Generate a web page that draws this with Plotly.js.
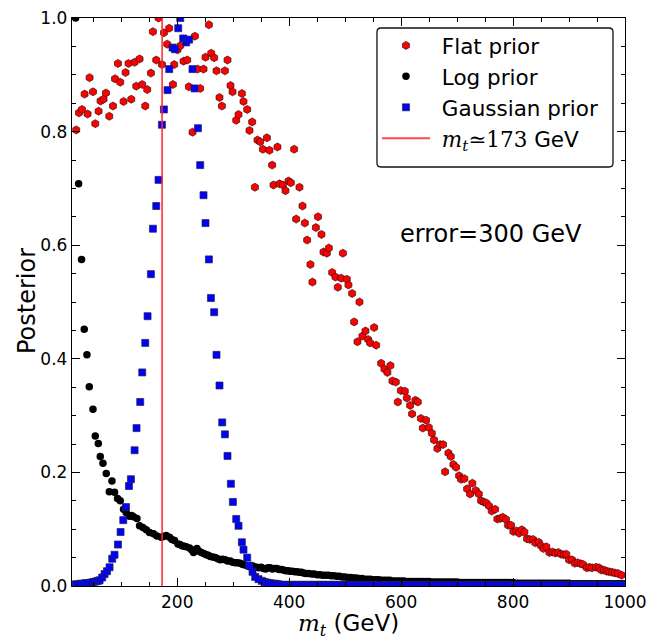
<!DOCTYPE html>
<html>
<head>
<meta charset="utf-8">
<script src="https://cdn.plot.ly/plotly-3.0.1.min.js"></script>
<style>html,body{margin:0;padding:0;background:#fff;}#chart{width:650px;height:640px;}</style>
</head>
<body>
<div id="chart"></div>
<script>
// ---- Flat prior (red hexagons) ----
const flatMass = [19.6,24.5,29.8,34.5,39.8,43.4,49.5,53.6,59.5,63.0,
68.4,72.7,78.6,85.2,88.8,94.1,98.2,104.1,107.7,113.0,
117.9,123.8,126.8,132.7,137.5,142.9,146.4,153.0,156.6,162.5,
166.6,172.7,176.2,182.1,185.7,192.3,194.6,200.5,205.4,211.3,
217.9,220.8,227.3,231.6,236.3,241.0,247.0,250.5,256.6,260.7,
266.0,270.2,275.5,279.8,285.2,289.8,295.2,298.8,305.4,309.5,
315.5,318.4,325.0,329.1,333.9,338.8,343.4,348.2,353.0,360.2,
364.8,369.6,372.0,379.1,382.7,388.7,393.4,398.8,403.0,408.9,
412.5,418.4,423.8,428.0,432.1,438.0,441.6,447.7,451.5,457.7,
461.3,467.3,470.9,476.8,482.7,486.9,492.9,496.0,503.0,505.9,
512.5,516.1,522.0,525.6,530.9,536.3,541.1,544.6,551.8,555.4,
564.3,570.2,575.5,580.9,584.5,590.5,594.1,599.5,606.6,610.2,
616.1,619.6,625.5,629.8,635.2,638.8,644.6,649.5,654.8,658.9,
664.8,669.6,675.0,678.6,684.5,688.8,693.4,698.2,703.6,707.1,
713.0,717.9,723.2,727.3,733.4,738.8,742.9,747.7,752.3,757.1,
761.9,767.9,772.0,777.3,781.6,787.5,791.1,796.4,800.5,805.9,
810.7,815.5,820.2,825.0,829.8,835.7,839.8,845.9,850.0,854.1,
859.5,864.8,870.2,875.5,880.9,885.7,890.5,895.2,900.0,905.4,
910.2,915.5,920.9,925.0,931.6,936.3,941.1,948.2,953.6,957.7,
962.5,967.3,972.0,977.3,982.1,987.5,994.1];
const flatPost = [.803,.833,.839,.866,.831,.895,.870,.814,.836,.854,
.857,.868,.827,.845,.893,.920,.887,.853,.904,.920,
.857,.922,.880,.928,.883,.845,.874,.903,.976,.926,
1.0,.918,.974,.954,.982,.883,.918,.944,.951,.924,
.926,.879,.799,.968,.910,.876,.910,.931,.988,.938,
.930,.907,.860,.845,.907,.926,.881,.870,.820,.830,
.867,.853,.839,.802,.817,.702,.785,.782,.769,.789,
.767,.741,.706,.773,.708,.706,.696,.713,.710,.769,
.646,.702,.669,.639,.609,.566,.535,.631,.650,.619,
.588,.586,.595,.552,.544,.526,.542,.586,.540,.530,
.515,.465,.430,.500,.440,.449,.434,.428,.455,.424,
.392,.382,.376,.388,.361,.359,.324,.344,.343,.331,
.318,.303,.327,.324,.295,.278,.292,.279,.269,.257,
.242,.249,.249,.201,.234,.228,.214,.209,.194,.188,
.189,.171,.162,.181,.168,.162,.150,.148,.146,.141,
.132,.135,.118,.119,.121,.117,.107,.107,.096,.097,
.093,.099,.095,.083,.082,.082,.076,.077,.071,.066,
.069,.059,.060,.058,.059,.056,.055,.056,.046,.046,
.040,.041,.039,.038,.032,.033,.032,.033,.032,.028,
.028,.026,.025,.024,.023,.022,.019];

// ---- Log prior (black circles) ----
const logMassHead = [18.4,23.8,29.1,33.9,38.7,42.9,49.5,53.6,59.0,62.5,
67.3,73.2,78.6,83.4,88.0,93.4,98.2,104.1,108.9,114.8,
118.5,122.0,128.0,132.7,138.8,144.6,150.5,157.7,163.7,171.4,
175.5,180.4,186.3,190.5,195.2,201.2,204.8,208.4,212.5,216.1,
222.0,225.5,229.1,235.2,239.0,242.9,247.5,251.8,255.5,259.0,
263.5,267.9,272.5,276.8,281.0,285.7,290.0,294.6,299.0,303.6,
308.0,312.5,317.0,321.4,326.0,330.4,335.0,339.0,342.3,346.0,
350.0,354.1,358.0,362.0,366.1,370.0,374.0,378.0,382.0,386.0,
389.8,394.0,398.0,401.8,406.0,410.0,413.7,418.0,422.0,425.5,
430.0,434.5];
const logPostHead = [1.0,.708,.575,.452,.407,.351,.311,.264,.251,.228,
.216,.198,.166,.185,.165,.154,.150,.135,.129,.123,
.124,.122,.119,.106,.103,.099,.094,.092,.088,.086,
.087,.089,.086,.082,.080,.074,.073,.071,.070,.069,
.067,.064,.059,.066,.061,.059,.057,.055,.054,.052,
.051,.050,.048,.046,.047,.046,.044,.044,.042,.041,
.041,.040,.038,.037,.035,.034,.035,.033,.033,.032,
.033,.031,.030,.032,.032,.030,.031,.031,.029,.029,
.028,.027,.027,.026,.026,.025,.025,.024,.024,.023,
.022,.022];
const logMassTail = [440,445,450,455,460,465,470,475,480,485,490,495,500,505,510,515,520,525,530,535,
540,545,550,555,560,565,570,575,580,585,590,595,600,605,610,615,620,625,630,635,
640,645,650,655,660,665,670,675,680,685,690,695,700,705,710,715,720,725,730,735,
740,745,750,755,760,765,770,775,780,785,790,795,800,805,810,815,820,825,830,835,
840,845,850,855,860,865,870,875,880,885,890,895,900,905,910,915,920,925,930,935,
940,945,950,955,960,965,970,975,980,985,990,995,1000];
const logPostTail = [.021,.021,.020,.020,.019,.019,.019,.018,.018,.017,
.017,.016,.016,.015,.015,.014,.014,.013,.013,.012,
.012,.012,.011,.011,.011,.010,.010,.010,.010,.009,
.009,.009,.009,.009,.008,.008,.008,.008,.008,.008,
.008,.008,.008,.007,.007,.007,.007,.007,.007,.007,
.007,.007,.007,
.006,.006,.006,.006,.006,.006,.006,.006,.006,.006,.006,.006,.006,.006,.006,.006,.006,.006,.006,.006,
.005,.005,.005,.005,.005,.005,.005,.005,.005,.005,.005,.005,.005,.005,.005,.005,.005,.005,.005,.005,
.004,.004,.004,.004,.004,.004,.004,.004,.004,.004,.004,.004,.004,.004,.004,.004,.004,.004,.004,.004];

// ---- Gaussian prior (blue squares) ----
const gaussMassHead = [18.5,23.0,27.5,32.0,36.5,41.0,45.5,50.0,54.5,58.0,
61.3,66.0,70.2,74.5,79.1,83.9,88.0,94.1,98.8,103.6,
108.4,113.8,117.3,123.8,127.3,133.9,137.5,142.9,147.0,153.0,
156.6,162.5,166.6,172.7,176.2,182.7,185.7,191.6,195.9,201.8,
205.4,210.7,216.1,221.4,227.3,230.9,237.0,241.0,247.0,250.5,
256.6,260.2,266.0,270.2,275.5,280.4,285.2,289.8,295.9,299.5,
305.4,309.5,315.5,318.4,325.0,328.6,334.5,339.3,345.2,351.3,
356.0,361.0,366.0,371.0,376.0,381.0];
const gaussPostHead = [.003,.003,.004,.004,.005,.005,.006,.007,.008,.009,
.010,.015,.021,.026,.033,.048,.055,.073,.095,.116,
.139,.176,.188,.239,.278,.324,.376,.428,.475,.549,
.629,.669,.715,.812,.839,.873,.910,.948,.945,.982,
1.0,.964,.957,.962,.910,.876,.806,.741,.688,.639,
.575,.507,.482,.407,.353,.288,.267,.229,.180,.148,
.118,.106,.077,.064,.050,.036,.025,.016,.012,.009,
.007,.006,.005,.004,.004,.003];
const gaussMassTail = [385,390,395,400,405,410,415,420,425,430,435,
440,445,450,455,460,465,470,475,480,485,490,495,500,505,510,515,520,525,530,535,
540,545,550,555,560,565,570,575,580,585,590,595,600,605,610,615,620,625,630,635,
640,645,650,655,660,665,670,675,680,685,690,695,700,705,710,715,720,725,730,735,
740,745,750,755,760,765,770,775,780,785,790,795,800,805,810,815,820,825,830,835,
840,845,850,855,860,865,870,875,880,885,890,895,900,905,910,915,920,925,930,935,
940,945,950,955,960,965,970,975,980,985,990,995,1000];
const gaussPostTail = [.002,.002,.002,.002,.002,.002,.002,.002,.002,.002,.002,
.002,.002,.002,.002,.002,.002,.002,.002,.002,.002,.002,.002,.002,.002,.002,.002,.002,.002,.002,.002,
.002,.002,.002,.002,.002,.002,.002,.002,.002,.002,.002,.002,.002,.002,.002,.002,.002,.002,.002,.002,
.002,.002,.002,.002,.002,.002,.002,.002,.002,.002,.002,.002,.002,.002,.002,.002,.002,.002,.002,.002,
.002,.002,.002,.002,.002,.002,.002,.002,.002,.002,.002,.002,.002,.002,.002,.002,.002,.002,.002,.002,
.002,.002,.002,.002,.002,.002,.002,.002,.002,.002,.002,.002,.002,.002,.002,.002,.002,.002,.002,.002,
.002,.002,.002,.002,.002,.002,.002,.002,.002,.002,.002,.002,.002];

// ---- Reference top mass ----
const topMass = 173;
const lineSpan = [0, 1];

// ---- Labels ----
const NB = '\u00A0';
const seriesNames = ['Flat prior', 'Log prior', 'Gaussian prior'];
const lineName = '<span style="font-family:\'DejaVu Serif\'"><i>m</i><sub><i>t</i></sub>≃173</span> GeV';
const xTitle = '<span style="font-family:\'DejaVu Serif\'"><i>m</i><sub><i>t</i></sub></span> (GeV)';
const yTitle = 'Posterior';
const noteText = 'error=300 GeV';

const traces = [
  {x: flatMass, y: flatPost, name: NB + seriesNames[0], type: 'scatter', mode: 'markers', legendgroup: 'a',
   marker: {symbol: 'hexagon', size: 8, color: '#ff0000', line: {color: '#331111', width: 0.7}}},
  {x: logMassHead.concat(logMassTail), y: logPostHead.concat(logPostTail), name: NB + seriesNames[1], type: 'scatter', mode: 'markers', legendgroup: 'b',
   marker: {symbol: 'circle', size: 7.5, color: '#000000', line: {width: 0}}},
  {x: gaussMassHead.concat(gaussMassTail), y: gaussPostHead.concat(gaussPostTail), name: NB + seriesNames[2], type: 'scatter', mode: 'markers', legendgroup: 'c',
   marker: {symbol: 'square', size: 7, color: '#0000ff', line: {color: '#222244', width: 0.7}}},
  {x: [topMass, topMass], y: lineSpan, name: NB + lineName, type: 'scatter', mode: 'lines', legendgroup: 'd',
   line: {color: 'rgba(255,40,40,0.85)', width: 1.8}}
];

const axisCommon = {
  ticks: 'inside', ticklen: 8, tickwidth: 1, tickcolor: '#000',
  mirror: 'allticks', showline: true, linecolor: '#000', linewidth: 1.2,
  showgrid: false, zeroline: false, tickfont: {size: 17, color: '#000'}
};

// legend frame (paper fractions of the plot area) with rounded corners
const bx0 = 0.5515, bx1 = 0.9783, by0 = 0.7377, by1 = 0.9824, rx = 0.0072, ry = 0.0070;
const framePath = `M${bx0+rx},${by0} L${bx1-rx},${by0} Q${bx1},${by0} ${bx1},${by0+ry} L${bx1},${by1-ry} Q${bx1},${by1} ${bx1-rx},${by1} L${bx0+rx},${by1} Q${bx0},${by1} ${bx0},${by1-ry} L${bx0},${by0+ry} Q${bx0},${by0} ${bx0+rx},${by0} Z`;

const layout = {
  width: 650, height: 640,
  margin: {l: 72, r: 25, t: 18, b: 54, pad: 0},
  paper_bgcolor: '#fff', plot_bgcolor: '#fff',
  font: {family: 'DejaVu Sans', color: '#000', size: 17},
  showlegend: true,
  legend: {x: 0.5515, y: 0.9878, xanchor: 'left', yanchor: 'top', bgcolor: 'rgba(0,0,0,0)',
           borderwidth: 0, font: {size: 21.5}, tracegroupgap: 0, itemwidth: 48},
  shapes: [{type: 'path', xref: 'paper', yref: 'paper', path: framePath, layer: 'above',
            fillcolor: '#fff', line: {color: '#111', width: 1.3}}],
  xaxis: Object.assign({}, axisCommon, {
    range: [12, 1000], tick0: 0, dtick: 200,
    minor: {tick0: 0, dtick: 50, ticks: 'inside', ticklen: 4, tickcolor: '#000', showgrid: false},
    title: {text: xTitle, font: {size: 23}, standoff: 9}
  }),
  yaxis: Object.assign({}, axisCommon, {
    range: [0, 1], tick0: 0, dtick: 0.2, tickformat: '.1f',
    minor: {tick0: 0, dtick: 0.05, ticks: 'inside', ticklen: 4, tickcolor: '#000', showgrid: false}
  }),
  annotations: [
    {xref: 'paper', yref: 'paper', x: 0.590, y: 0.619, xanchor: 'left', yanchor: 'middle',
     text: noteText, showarrow: false, font: {size: 24}},
    {xref: 'paper', yref: 'paper', x: -0.081, y: 0.502, xanchor: 'center', yanchor: 'middle',
     text: yTitle, textangle: -90, showarrow: false, font: {size: 24}}
  ]
};

Plotly.newPlot('chart', traces, layout, {staticPlot: true, displayModeBar: false});
</script>
</body>
</html>
